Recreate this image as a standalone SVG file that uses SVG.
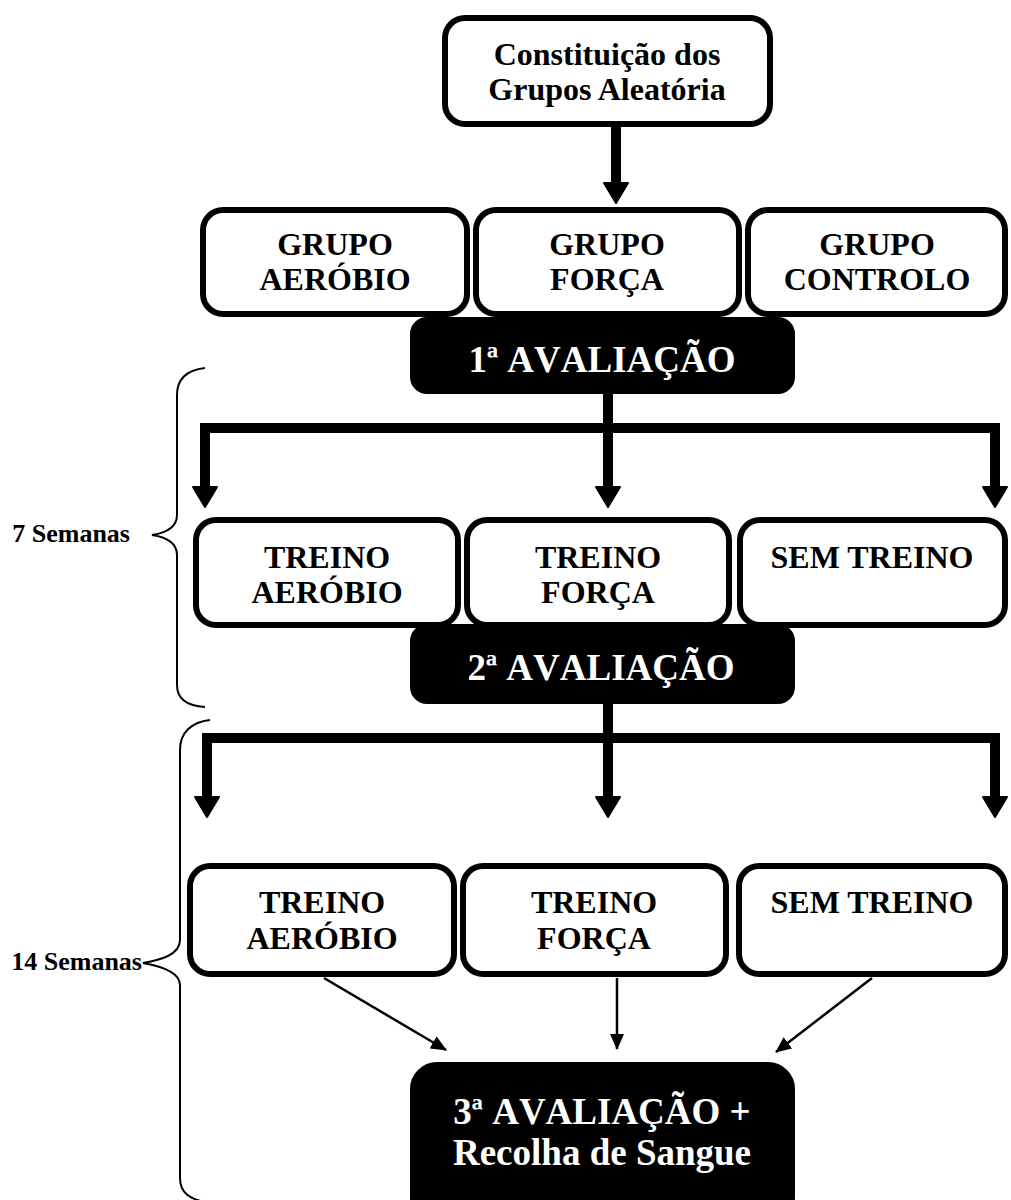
<svg xmlns="http://www.w3.org/2000/svg" width="1011" height="1200" viewBox="0 0 1011 1200">
<style>
.box{fill:#fff;stroke:#000;stroke-width:6}
.dark{fill:#000;stroke:#000;stroke-width:2}
.t{font-family:"Liberation Serif","Times New Roman",serif;font-weight:bold;font-size:32px;fill:#000;text-anchor:middle}
.tw{font-family:"Liberation Serif","Times New Roman",serif;font-weight:bold;font-size:37px;fill:#fff;text-anchor:middle;font-kerning:none}
.lab{font-family:"Liberation Serif","Times New Roman",serif;font-weight:bold;font-size:26px;fill:#000;text-anchor:end}
.thick{fill:none;stroke:#000;stroke-width:10}
.head{fill:#000;stroke:#000;stroke-width:2;stroke-linejoin:round}
.thin{fill:none;stroke:#000;stroke-width:2.5}
.brace{fill:none;stroke:#000;stroke-width:2}
</style>
<defs>
<marker id="small" markerUnits="userSpaceOnUse" markerWidth="16" markerHeight="14" refX="15" refY="7" orient="auto" viewBox="0 0 16 14">
<path d="M0,0 L16,7 L0,14 Z" fill="#000"/>
</marker>
<polygon id="bighead" class="head" points="-12,-20 12,-20 0,0"/>
</defs>

<g id="braces">
<path class="brace" d="M205,368 C188,370 177,378 177,395 L177,515 C177,528 165,533 152,535 C165,537 177,542 177,555 L177,685 C177,700 188,706 205,707"/>
<path class="brace" d="M210,720 C192,722 180,732 180,750 L180,940 C180,955 160,960 143,963 C160,966 180,972 180,985 L180,1178 C180,1193 190,1199 205,1202"/>
<text class="lab" x="130" y="542">7 Semanas</text>
<text class="lab" x="142" y="970">14 Semanas</text>
</g>

<g id="connectors">
<path class="thick" d="M616,127 L616,186"/>
<use href="#bighead" x="616" y="203"/>
<path class="thick" d="M608,393 L608,490"/>
<use href="#bighead" x="608" y="507"/>
<path class="thick" d="M205,490 L205,428 L995,428 L995,490"/>
<use href="#bighead" x="205" y="507"/>
<use href="#bighead" x="995" y="507"/>
<path class="thick" d="M608,703 L608,800"/>
<use href="#bighead" x="608" y="817"/>
<path class="thick" d="M207,800 L207,738 L995,738 L995,800"/>
<use href="#bighead" x="207" y="817"/>
<use href="#bighead" x="995" y="817"/>
<line class="thin" x1="324" y1="978" x2="446" y2="1050" marker-end="url(#small)"/>
<line class="thin" x1="617" y1="978" x2="617" y2="1049" marker-end="url(#small)"/>
<line class="thin" x1="872" y1="978" x2="776" y2="1052" marker-end="url(#small)"/>
</g>

<g id="n-constituicao">
<rect class="box" x="445" y="18" width="325" height="106" rx="20"/>
<text class="t" x="607" y="65">Constituição dos</text>
<text class="t" x="607" y="100">Grupos Aleatória</text>
</g>

<g id="n-grupo-aerobio">
<rect class="box" x="203" y="210" width="264" height="104" rx="20"/>
<text class="t" x="335" y="255">GRUPO</text>
<text class="t" x="335" y="290">AERÓBIO</text>
</g>
<g id="n-grupo-forca">
<rect class="box" x="476" y="210" width="263" height="104" rx="20"/>
<text class="t" x="607" y="255">GRUPO</text>
<text class="t" x="607" y="290">FORÇA</text>
</g>
<g id="n-grupo-controlo">
<rect class="box" x="748" y="210" width="257" height="104" rx="20"/>
<text class="t" x="877" y="255">GRUPO</text>
<text class="t" x="877" y="290">CONTROLO</text>
</g>

<g id="n-aval1">
<rect class="dark" x="411" y="318" width="383" height="75" rx="16"/>
<text class="tw" x="602" y="372">1ª AVALIAÇÃO</text>
</g>

<g id="n-treino-aerobio-1">
<rect class="box" x="196" y="520" width="262" height="105" rx="20"/>
<text class="t" x="327" y="568">TREINO</text>
<text class="t" x="327" y="603">AERÓBIO</text>
</g>
<g id="n-treino-forca-1">
<rect class="box" x="467" y="520" width="262" height="105" rx="20"/>
<text class="t" x="598" y="568">TREINO</text>
<text class="t" x="598" y="603">FORÇA</text>
</g>
<g id="n-sem-treino-1">
<rect class="box" x="740" y="520" width="265" height="105" rx="20"/>
<text class="t" x="872" y="568">SEM TREINO</text>
</g>

<g id="n-aval2">
<rect class="dark" x="411" y="625" width="383" height="78" rx="16"/>
<text class="tw" x="601" y="680">2ª AVALIAÇÃO</text>
</g>

<g id="n-treino-aerobio-2">
<rect class="box" x="190" y="866" width="264" height="108" rx="20"/>
<text class="t" x="322" y="913">TREINO</text>
<text class="t" x="322" y="949">AERÓBIO</text>
</g>
<g id="n-treino-forca-2">
<rect class="box" x="463" y="866" width="263" height="108" rx="20"/>
<text class="t" x="594" y="913">TREINO</text>
<text class="t" x="594" y="949">FORÇA</text>
</g>
<g id="n-sem-treino-2">
<rect class="box" x="739" y="866" width="266" height="108" rx="20"/>
<text class="t" x="872" y="913">SEM TREINO</text>
</g>

<g id="n-aval3">
<rect class="dark" x="411" y="1063" width="383" height="160" rx="26"/>
<text class="tw" x="602" y="1124">3ª AVALIAÇÃO +</text>
<text class="tw" x="602" y="1165">Recolha de Sangue</text>
</g>
</svg>
